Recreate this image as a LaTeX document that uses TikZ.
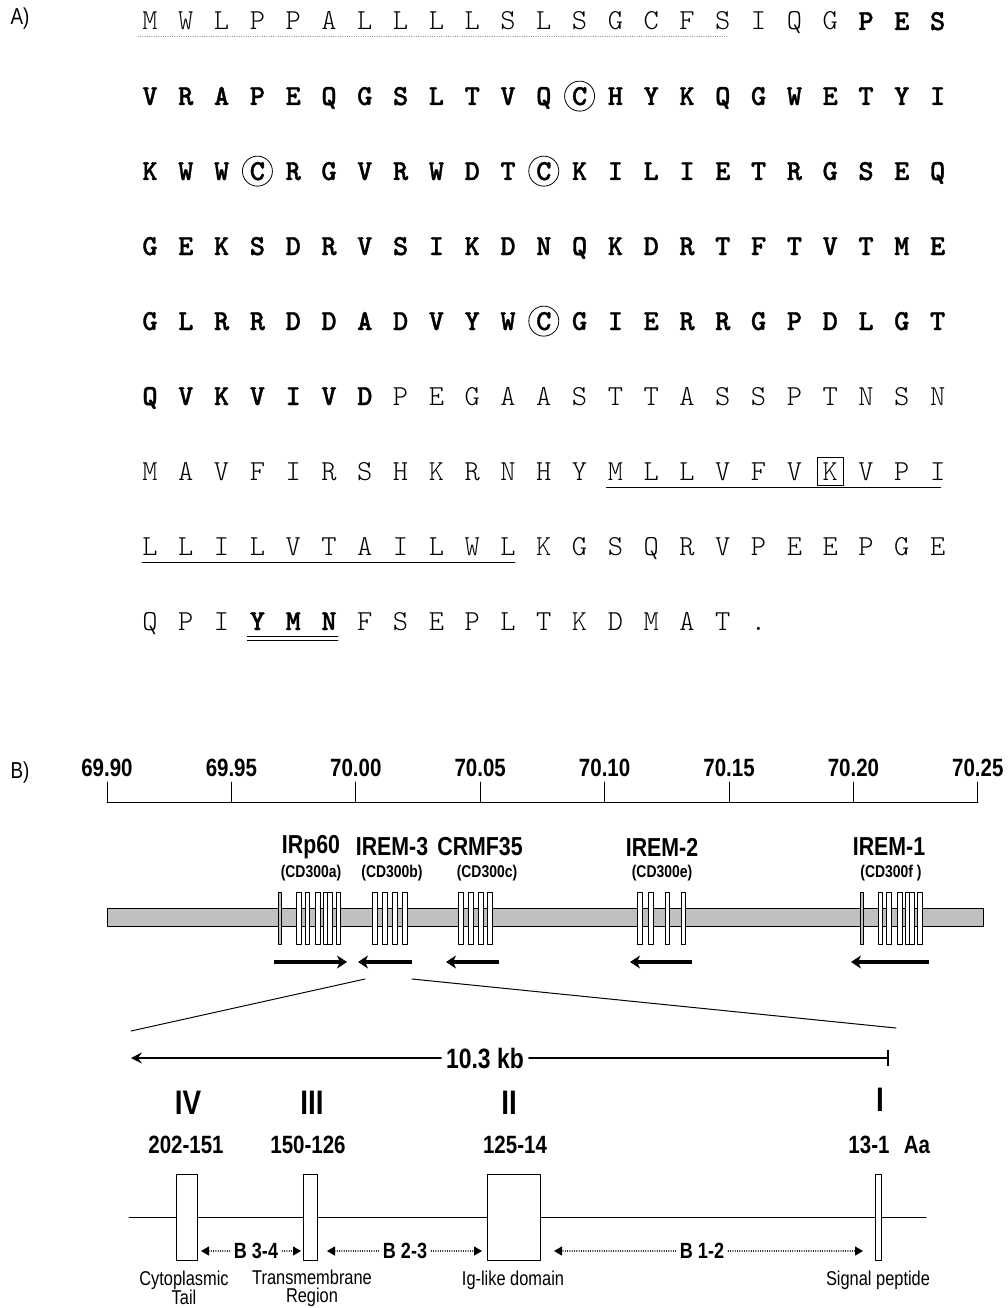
\documentclass[tikz,border=0pt]{standalone}
\usepackage{fontspec}
\usetikzlibrary{arrows.meta}
\newfontfamily\narrowsf[FakeStretch=0.82]{Liberation Sans}
\newfontfamily\seqheavy[FakeBold=1.2]{lmmonolt10-bold.otf}
\definecolor{bargray}{HTML}{C0C0C0}
\newcommand{\seqlt}{\ttfamily\fontseries{l}\fontsize{29}{34}\selectfont}
\newcommand{\seqbf}{\seqheavy\fontsize{29}{34}\selectfont}
\begin{document}
\begin{tikzpicture}[x=1pt,y=-1pt,line join=round,line cap=round,
	aa/.style={font=\seqlt,inner sep=0pt,anchor=base},
	aab/.style={font=\seqbf,inner sep=0pt,anchor=base},
	ring/.style={draw,circle,line width=0.8pt,minimum size=30pt,inner sep=0pt},
	panel/.style={font=\narrowsf\fontsize{23}{26}\selectfont},
	scalelab/.style={font=\narrowsf\bfseries\fontsize{25}{30}\selectfont},
	gname/.style={font=\narrowsf\bfseries\fontsize{26}{30}\selectfont},
	cdname/.style={font=\narrowsf\bfseries\fontsize{17}{20}\selectfont},
	exon/.style={draw,fill=white,line width=0.8pt},
	garrow/.style={line width=4.5pt,line cap=butt,-{Stealth[length=10pt,width=13pt,inset=3pt]}},
	roman/.style={font=\narrowsf\bfseries\fontsize{34}{40}\selectfont},
	aanum/.style={font=\narrowsf\bfseries\fontsize{25}{30}\selectfont},
	bexon/.style={draw,fill=white,line width=1pt,minimum height=86pt,inner sep=0pt},
	blab/.style={font=\narrowsf\bfseries\fontsize{22}{26}\selectfont,inner sep=4pt},
	barrow/.style={line width=1.1pt,dash pattern=on 0.1pt off 2.2pt,-{Triangle[length=8pt,width=9pt]}},
	dom/.style={font=\narrowsf\fontsize{20}{18}\selectfont,align=center,inner sep=1pt}]
	\path[fill=white,use as bounding box] (0,0) rectangle (1007,1308);
	% A) protein sequence
	\node[panel] (pa) at (20,19) {A)};
	\foreach \ch [count=\i from 0] in {M,W,L,P,P,A,L,L,L,L,S,L,S,G,C,F,S,I,Q,G}
		\node[aa] (r1-\i) at (150+35.8*\i,30) {\ch};
	\foreach \ch [count=\i from 20] in {P,E,S}
		\node[aab] (r1-\i) at (150+35.8*\i,30) {\ch};
	\foreach \ch [count=\i from 0] in {V,R,A,P,E,Q,G,S,L,T,V,Q,C,H,Y,K,Q,G,W,E,T,Y,I}
		\node[aab] (r2-\i) at (150+35.8*\i,105) {\ch};
	\foreach \ch [count=\i from 0] in {K,W,W,C,R,G,V,R,W,D,T,C,K,I,L,I,E,T,R,G,S,E,Q}
		\node[aab] (r3-\i) at (150+35.8*\i,180) {\ch};
	\foreach \ch [count=\i from 0] in {G,E,K,S,D,R,V,S,I,K,D,N,Q,K,D,R,T,F,T,V,T,M,E}
		\node[aab] (r4-\i) at (150+35.8*\i,255) {\ch};
	\foreach \ch [count=\i from 0] in {G,L,R,R,D,D,A,D,V,Y,W,C,G,I,E,R,R,G,P,D,L,G,T}
		\node[aab] (r5-\i) at (150+35.8*\i,330) {\ch};
	\foreach \ch [count=\i from 0] in {Q,V,K,V,I,V,D}
		\node[aab] (r6-\i) at (150+35.8*\i,405) {\ch};
	\foreach \ch [count=\i from 7] in {P,E,G,A,A,S,T,T,A,S,S,P,T,N,S,N}
		\node[aa] (r6-\i) at (150+35.8*\i,405) {\ch};
	\foreach \ch [count=\i from 0] in {M,A,V,F,I,R,S,H,K,R,N,H,Y,M,L,L,V,F,V,K,V,P,I}
		\node[aa] (r7-\i) at (150+35.8*\i,480) {\ch};
	\foreach \ch [count=\i from 0] in {L,L,I,L,V,T,A,I,L,W,L,K,G,S,Q,R,V,P,E,E,P,G,E}
		\node[aa] (r8-\i) at (150+35.8*\i,555) {\ch};
	\foreach \ch [count=\i from 0] in {Q,P,I}
		\node[aa] (r9-\i) at (150+35.8*\i,630) {\ch};
	\foreach \ch [count=\i from 3] in {Y,M,N}
		\node[aab] (r9-\i) at (150+35.8*\i,630) {\ch};
	\foreach \ch [count=\i from 6] in {F,S,E,P,L,T,K,D,M,A,T,.}
		\node[aa] (r9-\i) at (150+35.8*\i,630) {\ch};
	% marks on the sequence
	\draw[gray,line width=1pt,dash pattern=on 0.1pt off 2.2pt] ([xshift=-12pt,yshift=-7pt]r1-0.base) -- ([xshift=6pt,yshift=-7pt]r1-16.base);
	\node[ring] (c1) at (r2-12.center) {};
	\node[ring] (c2) at (r3-3.center) {};
	\node[ring] (c3) at (r3-11.center) {};
	\node[ring] (c4) at (r5-11.center) {};
	\node[draw,line width=0.8pt,minimum width=26pt,minimum height=28pt,inner sep=0pt] (kbox) at (r7-19.center) {};
	\draw[line width=0.8pt] ([xshift=-9pt,yshift=-7pt]r7-13.base) -- ([xshift=3pt,yshift=-7pt]r7-22.base);
	\draw[line width=0.8pt] ([xshift=-8pt,yshift=-7pt]r8-0.base) -- ([xshift=7pt,yshift=-7pt]r8-10.base);
	\draw[line width=0.8pt] ([xshift=-10pt,yshift=-6pt]r9-3.base) -- ([xshift=9pt,yshift=-6pt]r9-5.base);
	\draw[line width=0.8pt] ([xshift=-10pt,yshift=-10pt]r9-3.base) -- ([xshift=9pt,yshift=-10pt]r9-5.base);
	% B) gene map
	\node[panel] (pb) at (20,773) {B)};
	\draw[line width=1pt] (107,802) -- (978,802);
	\foreach \v [count=\i from 0] in {69.90,69.95,70.00,70.05,70.10,70.15,70.20,70.25}{
		\draw[line width=1pt] (107+124.4*\i,782) -- (107+124.4*\i,802);
		\node[scalelab] (t\i) at (107+124.4*\i,768) {\v};
	}
	\draw[fill=bargray,line width=1pt] (107,908) rectangle (983,926);
	\foreach \x in {299,307.5,318,326,330,338.5,375,385,395,405,461,471,481,490,640,651,667.5,683.5,880.5,889,900,908,912,920}
		\draw[exon] ({\x-2.3},892) rectangle ({\x+2.3},944);
	\foreach \x in {280,861.5}
		\draw[exon,fill=bargray] ({\x-1.6},892) rectangle ({\x+1.6},944);
	\node[gname] (g1) at (311,847) {IRp60};
	\node[cdname] (d1) at (311,873) {(CD300a)};
	\node[gname] (g2) at (392,847) {IREM-3};
	\node[cdname] (d2) at (392,873) {(CD300b)};
	\node[gname] (g3) at (480,847) {CRMF35};
	\node[cdname] (d3) at (487,873) {(CD300c)};
	\node[gname] (g4) at (662,847) {IREM-2};
	\node[cdname] (d4) at (662,873) {(CD300e)};
	\node[gname] (g5) at (889,847) {IREM-1};
	\node[cdname] (d5) at (891,873) {(CD300f )};
	\draw[garrow] (274,962) -- (347,962);
	\draw[garrow] (412,962) -- (358,962);
	\draw[garrow] (499,962) -- (446,962);
	\draw[garrow] (692,962) -- (630,962);
	\draw[garrow] (929,962) -- (851,962);
	% enlarged IREM-3
	\draw[line width=1pt] (365,979) -- (131,1031);
	\draw[line width=1pt] (412,979) -- (896,1028);
	\node[font=\narrowsf\bfseries\fontsize{28}{32}\selectfont,inner sep=5pt] (kb) at (485,1058) {10.3 kb};
	\coordinate (kbl) at (131,1058);
	\coordinate (kbr) at (889,1058);
	\draw[line width=2.5pt,-{Stealth[length=11pt,width=11pt,inset=4pt]}] (kb) -- (kbl);
	\draw[line width=2.5pt,-{Bar[width=16pt]}] (kb) -- (kbr);
	\draw[line width=1pt] (129,1217) -- (926,1217);
	\node[bexon,minimum width=21pt] (e4) at (187,1217) {};
	\node[bexon,minimum width=14pt] (e3) at (310.5,1217) {};
	\node[bexon,minimum width=53pt] (e2) at (514,1217) {};
	\node[bexon,minimum width=6pt] (e1) at (878,1217) {};
	\node[roman] (n4) at (188,1103) {IV};
	\node[roman] (n3) at (312,1103) {III};
	\node[roman] (n2) at (509,1103) {II};
	\node[roman] (n1) at (880,1100) {I};
	\node[aanum] (a4) at (186,1145) {202-151};
	\node[aanum] (a3) at (308,1145) {150-126};
	\node[aanum] (a2) at (515,1145) {125-14};
	\node[aanum] (a1) at (869,1145) {13-1};
	\node[aanum] (aa) at (917,1145) {Aa};
	\node[blab] (b34) at (256,1251) {B 3-4};
	\node[blab] (b23) at (405,1251) {B 2-3};
	\node[blab] (b12) at (702,1251) {B 1-2};
	\coordinate (b34l) at (201,1251);
	\coordinate (b34r) at (301,1251);
	\coordinate (b23l) at (327,1251);
	\coordinate (b23r) at (482,1251);
	\coordinate (b12l) at (554,1251);
	\coordinate (b12r) at (863,1251);
	\draw[barrow] (b34) -- (b34l);
	\draw[barrow] (b34) -- (b34r);
	\draw[barrow] (b23) -- (b23l);
	\draw[barrow] (b23) -- (b23r);
	\draw[barrow] (b12) -- (b12l);
	\draw[barrow] (b12) -- (b12r);
	\node[dom] (m4) at (184,1288) {Cytoplasmic\\Tail};
	\node[dom] (m3) at (312,1288) {Transmembrane\\Region};
	\node[dom] (m2) at (513,1280) {Ig-like domain};
	\node[dom] (m1) at (878,1280) {Signal peptide};
\end{tikzpicture}
\end{document}
